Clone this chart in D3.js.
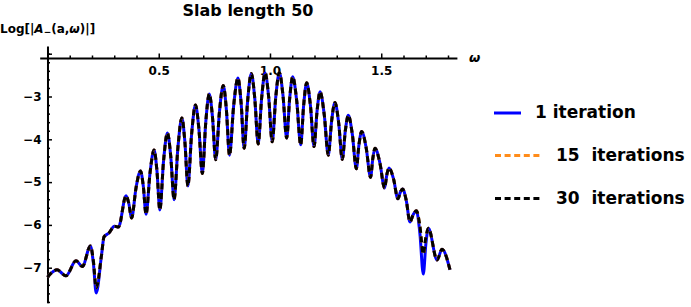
<!DOCTYPE html>
<html><head><meta charset="utf-8">
<script src="https://cdn.jsdelivr.net/npm/d3@7"></script>
<style>
html,body{margin:0;padding:0;background:#fff;}
svg{display:block;font-family:"DejaVu Sans",sans-serif;font-weight:bold;}
</style>
</head><body>
<svg id="chart" width="691" height="307"></svg>
<script>
const omega = [0.000, 0.043, 0.083, 0.128, 0.157, 0.193, 0.206, 0.219, 0.243, 0.254, 0.276, 0.301, 0.319, 0.353, 0.3655, 0.378, 0.398, 0.418, 0.4305, 0.443, 0.461, 0.479, 0.492, 0.505, 0.522, 0.539, 0.554, 0.569, 0.5865, 0.604, 0.6175, 0.631, 0.648, 0.665, 0.6805, 0.696, 0.7115, 0.727, 0.7415, 0.756, 0.773, 0.790, 0.804, 0.818, 0.837, 0.856, 0.870, 0.884, 0.900, 0.916, 0.9315, 0.947, 0.9625, 0.978, 0.994, 1.010, 1.026, 1.042, 1.0585, 1.075, 1.0885, 1.102, 1.120, 1.138, 1.1515, 1.165, 1.1815, 1.198, 1.2115, 1.225, 1.2435, 1.262, 1.277, 1.292, 1.3085, 1.325, 1.3385, 1.352, 1.370, 1.388, 1.400, 1.412, 1.432, 1.452, 1.462, 1.472, 1.4935, 1.515, 1.525, 1.535, 1.555, 1.575, 1.5855, 1.596, 1.6125, 1.629, 1.6435, 1.658, 1.6735, 1.689, 1.7005, 1.712, 1.751, 1.773, 1.809];

const iter1 = [-7.22, -7.05, -7.19, -6.84, -6.97, -6.49, -6.88, -7.59, -6.70, -6.28, -6.19, -6.03, -6.05, -5.32, -5.50, -5.84, -5.13, -4.74, -5.09, -5.75, -4.78, -4.25, -4.74, -5.65, -4.48, -3.85, -4.40, -5.41, -4.17, -3.50, -4.06, -5.09, -3.86, -3.20, -3.76, -4.80, -3.59, -2.94, -3.48, -4.48, -3.35, -2.74, -3.31, -4.37, -3.20, -2.57, -3.14, -4.21, -3.07, -2.46, -3.04, -4.11, -3.03, -2.45, -3.01, -4.06, -3.01, -2.44, -2.98, -3.97, -3.04, -2.54, -3.10, -4.13, -3.19, -2.68, -3.20, -4.17, -3.34, -2.89, -3.41, -4.37, -3.57, -3.14, -3.61, -4.47, -3.80, -3.44, -3.88, -4.69, -4.12, -3.82, -4.19, -4.89, -4.45, -4.21, -4.54, -5.14, -4.83, -4.67, -4.92, -5.39, -5.24, -5.16, -5.43, -5.93, -5.76, -5.67, -6.19, -7.15, -6.45, -6.08, -6.82, -6.57, -7.05];

const iter15 = [-7.22, -7.05, -7.19, -6.84, -6.97, -6.49, -6.83, -7.47, -6.70, -6.28, -6.19, -6.03, -6.05, -5.32, -5.50, -5.84, -5.13, -4.74, -5.09, -5.75, -4.78, -4.25, -4.74, -5.65, -4.48, -3.85, -4.40, -5.41, -4.17, -3.50, -4.06, -5.09, -3.86, -3.20, -3.76, -4.80, -3.59, -2.94, -3.48, -4.48, -3.35, -2.74, -3.31, -4.37, -3.20, -2.57, -3.14, -4.21, -3.07, -2.46, -3.04, -4.11, -3.03, -2.45, -3.01, -4.06, -3.01, -2.44, -2.98, -3.97, -3.04, -2.54, -3.10, -4.13, -3.19, -2.68, -3.20, -4.17, -3.34, -2.89, -3.41, -4.37, -3.57, -3.14, -3.61, -4.47, -3.80, -3.44, -3.88, -4.69, -4.12, -3.82, -4.19, -4.89, -4.45, -4.21, -4.54, -5.14, -4.83, -4.67, -4.92, -5.39, -5.24, -5.16, -5.43, -5.93, -5.76, -5.67, -6.02, -6.68, -6.29, -6.08, -6.82, -6.57, -7.05];

const iter30 = [-7.22, -7.05, -7.19, -6.84, -6.97, -6.49, -6.83, -7.47, -6.70, -6.28, -6.19, -6.03, -6.05, -5.32, -5.50, -5.84, -5.13, -4.74, -5.09, -5.75, -4.78, -4.25, -4.74, -5.65, -4.48, -3.85, -4.40, -5.41, -4.17, -3.50, -4.06, -5.09, -3.86, -3.20, -3.76, -4.80, -3.59, -2.94, -3.48, -4.48, -3.35, -2.74, -3.31, -4.37, -3.20, -2.57, -3.14, -4.21, -3.07, -2.46, -3.04, -4.11, -3.03, -2.45, -3.01, -4.06, -3.01, -2.44, -2.98, -3.97, -3.04, -2.54, -3.10, -4.13, -3.19, -2.68, -3.20, -4.17, -3.34, -2.89, -3.41, -4.37, -3.57, -3.14, -3.61, -4.47, -3.80, -3.44, -3.88, -4.69, -4.12, -3.82, -4.19, -4.89, -4.45, -4.21, -4.54, -5.14, -4.83, -4.67, -4.92, -5.39, -5.24, -5.16, -5.43, -5.93, -5.76, -5.67, -6.02, -6.68, -6.29, -6.08, -6.82, -6.57, -7.05];

const seriesNames = ["1 iteration", "15  iterations", "30  iterations"];
const seriesColors = ["#0000ff", "#ff8c1a", "#000000"];
const seriesDash = [null, "6,3.6", "6,3.6"];

const xTicks = [0.5, 1.0, 1.5];
const xTickLabels = ["0.5", "1.0", "1.5"];
const xMinorTicks = [0.1,0.2,0.3,0.4,0.6,0.7,0.8,0.9,1.1,1.2,1.3,1.4,1.6,1.7,1.8];
const yTicks = [-7, -6, -5, -4, -3, -2];
const yTickLabels = ["−7", "−6", "−5", "−4", "−3", ""];
const yMinorTicks = [-7.8,-7.6,-7.4,-7.2,-6.8,-6.6,-6.4,-6.2,-5.8,-5.6,-5.4,-5.2,-4.8,-4.6,-4.4,-4.2,-3.8,-3.6,-3.4,-3.2,-2.8,-2.6,-2.4,-2.2,-2.0];

const titleText = "Slab length 50";
const xAxisCross = -2.1;

const svg = d3.select("#chart");
const x = d3.scaleLinear().domain([-0.035, 1.84]).range([39.7, 456.9]);
const y = d3.scaleLinear().domain([-7.82, -1.82]).range([302.8, 46.0]);

// Title
svg.append("text").attr("x", 248).attr("y", 16).attr("text-anchor", "middle")
  .attr("font-size", 16).text(titleText);

// Y label
const yl = svg.append("text").attr("x", 0).attr("y", 33).attr("font-size", 12);
yl.append("tspan").text("Log[|");
yl.append("tspan").attr("font-style", "italic").text("A");
yl.append("tspan").attr("font-size", 9).attr("dy", 2).text("−");
yl.append("tspan").attr("dy", -2).text("(a,");
yl.append("tspan").attr("font-style", "italic").text("ω");
yl.append("tspan").text(")|]");

// Axes
const xAxisG = svg.append("g").attr("transform", `translate(0,${y(xAxisCross)})`);
xAxisG.call(d3.axisBottom(x).tickValues(xTicks).tickSizeInner(-4.5).tickSizeOuter(0)
  .tickPadding(9).tickFormat((d, i) => xTickLabels[i]));
const xMinorG = svg.append("g").attr("transform", `translate(0,${y(xAxisCross)})`);
xMinorG.call(d3.axisBottom(x).tickValues(xMinorTicks).tickSizeInner(-2.5).tickSizeOuter(0).tickFormat(""));
xMinorG.select(".domain").remove();

const yAxisG = svg.append("g").attr("transform", `translate(${x(0)},0)`);
yAxisG.call(d3.axisLeft(y).tickValues(yTicks).tickSizeInner(-4.5).tickSizeOuter(0)
  .tickPadding(6).tickFormat((d, i) => yTickLabels[i]));
const yMinorG = svg.append("g").attr("transform", `translate(${x(0)},0)`);
yMinorG.call(d3.axisLeft(y).tickValues(yMinorTicks).tickSizeInner(-2.5).tickSizeOuter(0).tickFormat(""));
yMinorG.select(".domain").remove();

svg.selectAll(".domain").attr("stroke", "#000").attr("stroke-width", 2);
svg.selectAll(".tick line").attr("stroke", "#000").attr("stroke-width", 1.5);
svg.selectAll(".tick text").attr("font-family", "DejaVu Sans").attr("font-weight", "bold")
  .attr("font-size", 12).attr("fill", "#000");

// omega axis label
svg.append("text").attr("x", 469).attr("y", 62).attr("font-size", 13)
  .attr("font-style", "italic").text("ω");

// Curves
const seriesValues = [iter1, iter15, iter30];
const line = d3.line().x(d => x(d[0])).y(d => y(d[1])).curve(d3.curveMonotoneX);
seriesValues.forEach((vals, i) => {
  const pts = omega.map((w, j) => [w, vals[j]]);
  const p = svg.append("path").attr("d", line(pts)).attr("fill", "none")
    .attr("stroke", seriesColors[i]).attr("stroke-width", 3)
    .attr("stroke-linejoin", "round");
  if (seriesDash[i]) p.attr("stroke-dasharray", seriesDash[i]);
});

// Legend
const legY = [113, 155.5, 198.5];
const legLineX = [[494, 521], [495, 543], [495, 543]];
const legTextX = [535, 556, 556];
seriesNames.forEach((name, i) => {
  const l = svg.append("line").attr("x1", legLineX[i][0]).attr("x2", legLineX[i][1])
    .attr("y1", legY[i]).attr("y2", legY[i])
    .attr("stroke", seriesColors[i]).attr("stroke-width", 3);
  if (seriesDash[i]) l.attr("stroke-dasharray", seriesDash[i]);
  svg.append("text").attr("x", legTextX[i]).attr("y", legY[i] + 5)
    .attr("font-size", 17).attr("xml:space", "preserve").style("white-space", "pre")
    .text(name);
});
</script>
</body></html>
